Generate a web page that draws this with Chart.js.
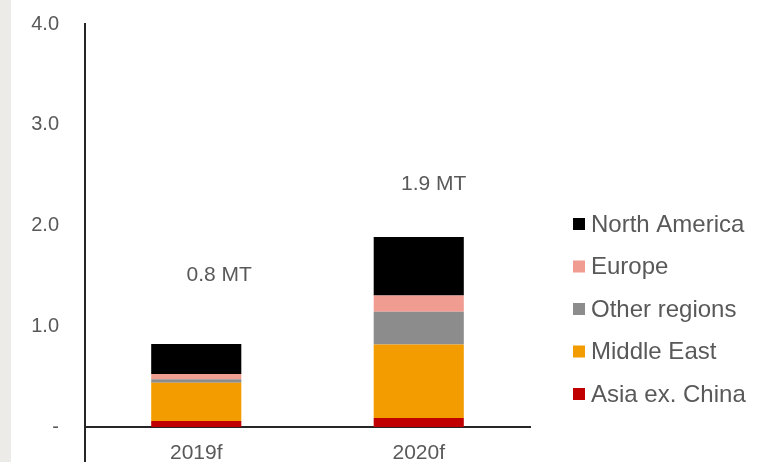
<!DOCTYPE html>
<html>
<head>
<meta charset="utf-8">
<script src="https://cdn.jsdelivr.net/npm/chart.js@4"></script>
<style>
  html, body { margin: 0; padding: 0; background: #fff; }
  #wrap { position: relative; width: 760px; height: 462px; overflow: hidden; }
  #strip { position: absolute; left: 0; top: 0; width: 11px; height: 462px; background: #ecebe7; }
  #chart { position: absolute; left: 0; top: 0; }
</style>
</head>
<body>
<div id="wrap">
  <div id="strip"></div>
  <canvas id="chart" width="760" height="462"></canvas>
</div>
<script>
// datos (millones de toneladas)
const categories = ['2019f', '2020f'];
const seriesNames = ['Asia ex. China', 'Middle East', 'Other regions', 'Europe', 'North America'];
const asiaExChina = [0.06, 0.09];
const middleEast = [0.38, 0.73];
const otherRegions = [0.035, 0.325];
const europe = [0.05, 0.16];
const northAmerica = [0.30, 0.58];
const totalLabels = ['0.8 MT', '1.9 MT'];
const yTicks = [0, 1, 2, 3, 4];

const colors = ['#c00000', '#f39c00', '#8c8c8c', '#f19c91', '#000000'];
const seriesValues = [asiaExChina, middleEast, otherRegions, europe, northAmerica];

const FONT = '"Liberation Sans", Arial, sans-serif';
const TEXT = '#595959';

// etiquetas de total encima de cada barra
const totalsPlugin = {
  id: 'totals',
  afterDatasetsDraw(chart) {
    const { ctx, scales } = chart;
    const shift = [{ dx: 23, dy: -69 }, { dx: 15, dy: -53 }];
    const lastMeta = chart.getDatasetMeta(chart.data.datasets.length - 1);
    ctx.save();
    ctx.font = '21px ' + FONT;
    ctx.fillStyle = TEXT;
    ctx.textAlign = 'center';
    ctx.textBaseline = 'middle';
    categories.forEach((c, i) => {
      const total = seriesValues.reduce((s, arr) => s + arr[i], 0);
      const x = lastMeta.data[i].x + shift[i].dx;
      const y = scales.y.getPixelForValue(total) + shift[i].dy;
      ctx.fillText(totalLabels[i], x, y);
    });
    ctx.restore();
  }
};

// leyenda propia a la derecha (orden invertido) + eje Y prolongado
const sideLegend = {
  id: 'sideLegend',
  afterDraw(chart) {
    const { ctx, chartArea } = chart;
    ctx.save();
    ctx.strokeStyle = '#262626';
    ctx.lineWidth = 2;
    ctx.beginPath();
    ctx.moveTo(chartArea.left, chartArea.bottom);
    ctx.lineTo(chartArea.left, chart.height);
    ctx.stroke();

    ctx.font = '24px ' + FONT;
    ctx.textBaseline = 'middle';
    const items = chart.data.datasets.slice().reverse();
    const x0 = 573, y0 = 224, step = 42.5;
    items.forEach((ds, i) => {
      const y = y0 + i * step;
      ctx.fillStyle = ds.backgroundColor;
      ctx.fillRect(x0, y - 6, 12, 12);
      ctx.fillStyle = TEXT;
      ctx.fillText(ds.label, x0 + 18, y + 1);
    });
    ctx.restore();
  }
};

new Chart(document.getElementById('chart'), {
  type: 'bar',
  data: {
    labels: categories,
    datasets: seriesNames.map((name, i) => ({
      label: name,
      data: seriesValues[i],
      backgroundColor: colors[i],
      borderWidth: 0,
      categoryPercentage: 1,
      barPercentage: 0.405
    }))
  },
  options: {
    responsive: false,
    animation: false,
    layout: { padding: { top: 24, right: 230, left: 0, bottom: 0 } },
    plugins: { legend: { display: false }, tooltip: { enabled: false } },
    scales: {
      x: {
        stacked: true,
        grid: { display: false, drawTicks: false },
        border: { color: '#262626', width: 2 },
        ticks: { color: TEXT, font: { family: FONT, size: 21 }, padding: 14 },
        afterFit(scale) { scale.height = 35; }
      },
      y: {
        stacked: true,
        min: 0,
        max: 4,
        grid: { display: false, drawTicks: false },
        border: { color: '#262626', width: 2 },
        afterBuildTicks(scale) { scale.ticks = yTicks.map(v => ({ value: v })); },
        ticks: {
          color: TEXT,
          font: { family: FONT, size: 20 },
          padding: 26,
          callback: v => (v === 0 ? '-' : v.toFixed(1))
        },
        afterFit(scale) {
          scale.width = 85;
          scale.paddingTop = 0;
          scale.paddingBottom = 0;
        }
      }
    }
  },
  plugins: [totalsPlugin, sideLegend]
});
</script>
</body>
</html>
